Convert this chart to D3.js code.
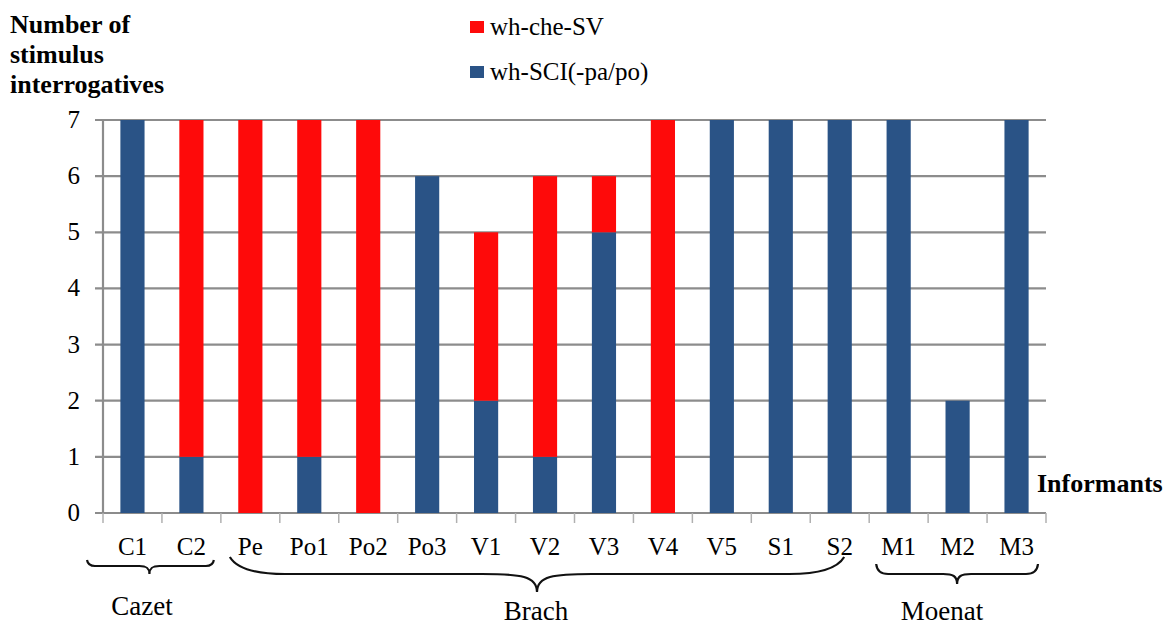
<!DOCTYPE html>
<html><head><meta charset="utf-8">
<script src="https://cdn.jsdelivr.net/npm/d3@7"></script>
<style>body{margin:0;background:#fff}svg{display:block}text{font-family:"Liberation Serif","Times New Roman",serif;fill:#000}</style>
</head><body>
<svg id="c" width="1166" height="628"></svg>
<script>
const informants = ["C1","C2","Pe","Po1","Po2","Po3","V1","V2","V3","V4","V5","S1","S2","M1","M2","M3"];
const sciValues = [7,1,0,1,0,6,2,1,5,0,7,7,7,7,2,7];   // wh-SCI(-pa/po)
const cheValues = [0,6,7,6,7,0,3,5,1,7,0,0,0,0,0,0];   // wh-che-SV
const seriesNames = ["wh-che-SV","wh-SCI(-pa/po)"];
const yTicks = [0,1,2,3,4,5,6,7];
const groupNames = ["Cazet","Brach","Moenat"];
const groupFrom = ["C1","Pe","M1"];
const groupTo = ["C2","S2","M3"];

const colRed = "#fe0a0a", colBlue = "#2a5386", gridCol = "#8c8c8c";
const svg = d3.select("#c");
const x = d3.scaleBand().domain(informants).range([103,1046]).paddingInner(0.59).paddingOuter(0.295);
const xb = d3.scaleBand().domain(informants).range([103,1046]).padding(0);
const y = d3.scaleLinear().domain([0,7]).range([513,120]);

// gridlines
svg.append("g").selectAll("line").data(yTicks).join("line")
  .attr("x1",95).attr("x2",1046).attr("y1",d=>y(d)).attr("y2",d=>y(d))
  .attr("stroke",gridCol).attr("stroke-width",2.2);
// y axis line
svg.append("line").attr("x1",103).attr("x2",103).attr("y1",y(7)-1).attr("y2",y(0)+1)
  .attr("stroke",gridCol).attr("stroke-width",2.2);
// x ticks
const xt = informants.map(d=>xb(d)).concat([1046]);
svg.append("g").selectAll("line").data(xt).join("line")
  .attr("x1",d=>d).attr("x2",d=>d).attr("y1",y(0)).attr("y2",y(0)+10)
  .attr("stroke","#b0b0b0").attr("stroke-width",1.5);

// bars
const rows = informants.map((k,i)=>({k, sci:sciValues[i], che:cheValues[i]}));
const stack = d3.stack().keys(["sci","che"])(rows);
const colors = {sci:colBlue, che:colRed};
svg.append("g").selectAll("g").data(stack).join("g").attr("fill",s=>colors[s.key])
  .selectAll("rect").data(s=>s.filter(d=>d[1]>d[0])).join("rect")
  .attr("x",d=>x(d.data.k)).attr("width",x.bandwidth())
  .attr("y",d=>y(d[1])).attr("height",d=>y(d[0])-y(d[1]));

// y labels
svg.append("g").selectAll("text").data(yTicks).join("text")
  .attr("x",80).attr("y",d=>y(d)+8).attr("text-anchor","end").attr("font-size",25).text(d=>d);
// x labels
svg.append("g").selectAll("text").data(informants).join("text")
  .attr("x",d=>x(d)+x.bandwidth()/2).attr("y",555).attr("text-anchor","middle").attr("font-size",25).text(d=>d);

// y title
const tt = svg.append("text").attr("x",10).attr("font-size",26).attr("font-weight","bold");
["Number of","stimulus","interrogatives"].forEach((t,i)=>tt.append("tspan").attr("x",10).attr("y",33+i*30).text(t));
// x title
svg.append("text").attr("x",1037).attr("y",492).attr("font-size",26).attr("font-weight","bold").text("Informants");

// legend
const lg = svg.append("g");
seriesNames.forEach((n,i)=>{
  lg.append("rect").attr("x",470).attr("y",21+i*45).attr("width",14).attr("height",12).attr("fill",i===0?colRed:colBlue);
  lg.append("text").attr("x",490).attr("y",35+i*45).attr("font-size",25).text(n);
});

// braces
const braceSpec = [
  {x0:-16, x1:-7, y0:560, yh:566, tip:574, r:8, r2:10},
  {x0:9, x1:-25, y0:557, yh:574, tip:592, r:55, r2:55},
  {x0:7, x1:-8, y0:564, yh:574, tip:584, r:12, r2:14}
];
const labY = [615,620,620];
groupNames.forEach((g,i)=>{
  const s = braceSpec[i];
  const a = xb(groupFrom[i]) + s.x0, b = xb(groupTo[i]) + xb.bandwidth() + s.x1;
  const m = i===1 ? 537 : (a+b)/2 + (i===0? -1: 0);
  const p = d3.path();
  p.moveTo(a,s.y0);
  p.quadraticCurveTo(a+ (i===1?10:1), s.yh, a+s.r, s.yh);
  p.lineTo(m-s.r2, s.yh);
  p.bezierCurveTo(m-s.r2*0.3, s.yh, m, s.yh+2, m, s.tip);
  p.bezierCurveTo(m, s.yh+2, m+s.r2*0.3, s.yh, m+s.r2, s.yh);
  p.lineTo(b-s.r, s.yh);
  p.quadraticCurveTo(b-(i===1?10:1), s.yh, b, s.y0);
  svg.append("path").attr("d",p.toString()).attr("fill","none").attr("stroke","#111").attr("stroke-width",2.2);
  svg.append("text").attr("x", i===0?142:(i===1?536:942)).attr("y",labY[i]).attr("text-anchor","middle").attr("font-size",27).text(g);
});
</script>
</body></html>
